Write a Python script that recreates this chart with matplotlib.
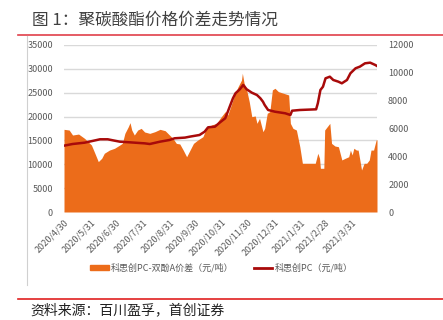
import matplotlib.pyplot as plt
import pandas as pd
from matplotlib.lines import Line2D
from matplotlib.patches import Patch

plt.rcParams['font.family'] = ['Noto Sans CJK SC', 'DejaVu Sans']

# --- data ---
spread_dates = [
    "2020-04-30", "2020-05-06", "2020-05-10", "2020-05-17", "2020-05-24", "2020-05-28",
    "2020-06-01", "2020-06-05", "2020-06-09", "2020-06-13", "2020-06-16", "2020-06-22",
    "2020-06-28", "2020-07-04", "2020-07-07", "2020-07-10", "2020-07-14", "2020-07-16",
    "2020-07-18", "2020-07-21", "2020-07-25", "2020-07-29", "2020-08-02", "2020-08-08",
    "2020-08-14", "2020-08-20", "2020-08-26", "2020-08-31", "2020-09-04", "2020-09-08",
    "2020-09-12", "2020-09-16", "2020-09-20", "2020-09-24", "2020-09-28", "2020-10-03",
    "2020-10-09", "2020-10-13", "2020-10-19", "2020-10-25", "2020-10-29", "2020-11-04",
    "2020-11-07", "2020-11-11", "2020-11-15", "2020-11-19", "2020-11-23", "2020-11-24",
    "2020-11-26", "2020-11-29", "2020-12-02", "2020-12-05", "2020-12-09", "2020-12-11",
    "2020-12-14", "2020-12-18", "2020-12-20", "2020-12-23", "2020-12-26", "2020-12-29",
    "2021-01-01", "2021-01-05", "2021-01-11", "2021-01-17", "2021-01-19", "2021-01-22",
    "2021-01-26", "2021-01-30", "2021-02-02", "2021-02-17", "2021-02-20", "2021-02-22",
    "2021-02-23", "2021-02-27", "2021-02-28", "2021-03-03", "2021-03-06", "2021-03-08",
    "2021-03-12", "2021-03-16", "2021-03-20", "2021-03-24", "2021-03-28", "2021-03-30",
    "2021-04-01", "2021-04-03", "2021-04-06", "2021-04-08", "2021-04-10", "2021-04-12",
    "2021-04-15", "2021-04-18", "2021-04-21", "2021-04-23", "2021-04-26", "2021-04-29",
    "2021-04-30",
]
spread = [
    5940, 5890, 5530, 5600, 5290, 5050,
    4810, 4220, 3620, 3860, 4220, 4450,
    4580, 4810, 4930, 5650, 6130, 6420,
    5890, 5530, 5890, 6010, 5750, 5650,
    5770, 5940, 5840, 5530, 5290, 4930,
    4890, 4450, 3970, 4450, 4930, 5170,
    5410, 6010, 6250, 6370, 6730, 7210,
    6970, 7690, 8410, 9000, 9480, 9970,
    9250, 8770, 7930, 6850, 6900, 6370,
    6730, 5770, 6010, 7090, 7210, 8770,
    8890, 8650, 8530, 8410, 6370, 6010,
    5890, 4690, 3500, 3500, 4220, 3860,
    3140, 3140, 5890, 6130, 6370, 4930,
    4740, 4690, 3740, 3860, 3970, 4450,
    4100, 4580, 4450, 4450, 3740, 3020,
    3500, 3500, 3740, 4450, 4450, 5170,
    5200,
]

pc_dates = [
    "2020-04-30", "2020-05-10", "2020-05-24", "2020-06-02", "2020-06-11", "2020-06-20",
    "2020-06-28", "2020-07-04", "2020-07-16", "2020-07-27", "2020-08-02", "2020-08-08",
    "2020-08-20", "2020-08-31", "2020-09-06", "2020-09-18", "2020-09-24", "2020-10-05",
    "2020-10-11", "2020-10-15", "2020-10-23", "2020-10-29", "2020-11-04", "2020-11-07",
    "2020-11-10", "2020-11-13", "2020-11-16", "2020-11-21", "2020-11-25", "2020-11-29",
    "2020-12-05", "2020-12-11", "2020-12-15", "2020-12-18", "2020-12-20", "2020-12-24",
    "2021-01-01", "2021-01-13", "2021-01-19", "2021-01-21", "2021-01-30", "2021-02-18",
    "2021-02-20", "2021-02-23", "2021-02-26", "2021-03-01", "2021-03-06", "2021-03-10",
    "2021-03-16", "2021-03-20", "2021-03-26", "2021-03-30", "2021-04-05", "2021-04-10",
    "2021-04-16", "2021-04-22", "2021-04-28", "2021-04-30",
]
pc_price = [
    13900, 14250, 14530, 14880, 15240, 15240,
    14950, 14740, 14600, 14460, 14390, 14250,
    14740, 15090, 15450, 15590, 15800, 16140,
    16830, 17750, 17880, 18800, 19640, 21020,
    22430, 23830, 24880, 25720, 26620, 25720,
    25010, 24520, 23830, 23120, 22430, 21380,
    21020, 20690, 20330, 21230, 21380, 21520,
    22780, 25570, 26260, 28020, 28360, 27670,
    27310, 26970, 27670, 29070, 30120, 30460,
    31160, 31300, 30810, 30600,
]

tick_dates = [
    "2020-04-30", "2020-05-31", "2020-06-30", "2020-07-31", "2020-08-31", "2020-09-30",
    "2020-10-31", "2020-11-30", "2020-12-31", "2021-01-31", "2021-02-28", "2021-03-31",
]
tick_labels = [
    "2020/4/30", "2020/5/31", "2020/6/30", "2020/7/31", "2020/8/31", "2020/9/30",
    "2020/10/31", "2020/11/30", "2020/12/31", "2021/1/31", "2021/2/28", "2021/3/31",
]

orange = "#ec6c1a"
darkred = "#a80a0a"
gray = "#595959"

fig = plt.figure(figsize=(4.43, 3.2), dpi=100)

# title and decorative frame lines
fig.text(0.072, 0.937, "图 1：聚碳酸酯价格价差走势情况", fontsize=12, color="#404040",
         ha="left", va="center")
fig.add_artist(Line2D([18 / 443, 1], [1 - 35 / 320] * 2, color="#e0404a", lw=1.2))
fig.add_artist(Line2D([27 / 443] * 2, [1 - 36 / 320, 1 - 285 / 320], color="#d0d0d0", lw=0.8))
fig.add_artist(Line2D([18 / 443, 1], [1 - 299 / 320] * 2, color="#e02020", lw=1.2))
fig.text(0.068, 0.031, "资料来源：百川盈孚，首创证券", fontsize=10, color="#202020",
         ha="left", va="center", style="italic")

rect = [64 / 443, 1 - 212 / 320, (377 - 64) / 443, (212 - 45) / 320]
ax = fig.add_axes(rect)       # left scale + grid
ax2 = ax.twinx()              # spread area, right scale
ax3 = ax.twinx()              # PC price line, left scale, on top

ax.set_zorder(1)
ax2.set_zorder(2)
ax3.set_zorder(3)
ax2.patch.set_visible(False)
ax3.patch.set_visible(False)

sd = pd.to_datetime(spread_dates)
pcd = pd.to_datetime(pc_dates)

ax2.fill_between(sd, spread, 0, color=orange, lw=0)
ax3.plot(pcd, pc_price, color=darkred, lw=1.8)

xmin, xmax = pd.Timestamp("2020-04-30"), pd.Timestamp("2021-04-30")
ax.set_xlim(xmin, xmax)
for a in (ax, ax2, ax3):
    for s in a.spines.values():
        s.set_visible(False)

ax.set_ylim(0, 35000)
ax3.set_ylim(0, 35000)
ax2.set_ylim(0, 12000)

ax.set_yticks(range(0, 35001, 5000))
ax2.set_yticks(range(0, 12001, 2000))
ax3.set_yticks([])
ax.yaxis.grid(True, color="#d9d9d9", lw=1)
ax.tick_params(axis="y", length=0, pad=8, labelsize=6.5, labelcolor=gray)
ax2.tick_params(axis="y", length=0, pad=8, labelsize=6.5, labelcolor=gray)

ax.set_xticks(pd.to_datetime(tick_dates))
ax.set_xticklabels(tick_labels, rotation=45, ha="right", va="top",
                   rotation_mode="anchor", fontsize=6.5, color=gray)
ax.tick_params(axis="x", length=0, pad=4)

handles = [Patch(color=orange), Line2D([], [], color=darkred, lw=2)]
labels = ["科思创PC-双酚A价差（元/吨）", "科思创PC（元/吨）"]
fig.legend(handles, labels, loc="center", bbox_to_anchor=(0.5, 1 - 268 / 320), ncol=2,
           frameon=False, fontsize=6.5, labelcolor=gray, handlelength=2.0,
           handleheight=0.6, columnspacing=2.2, handletextpad=0.3)

fig.savefig("out.png", dpi=100)
